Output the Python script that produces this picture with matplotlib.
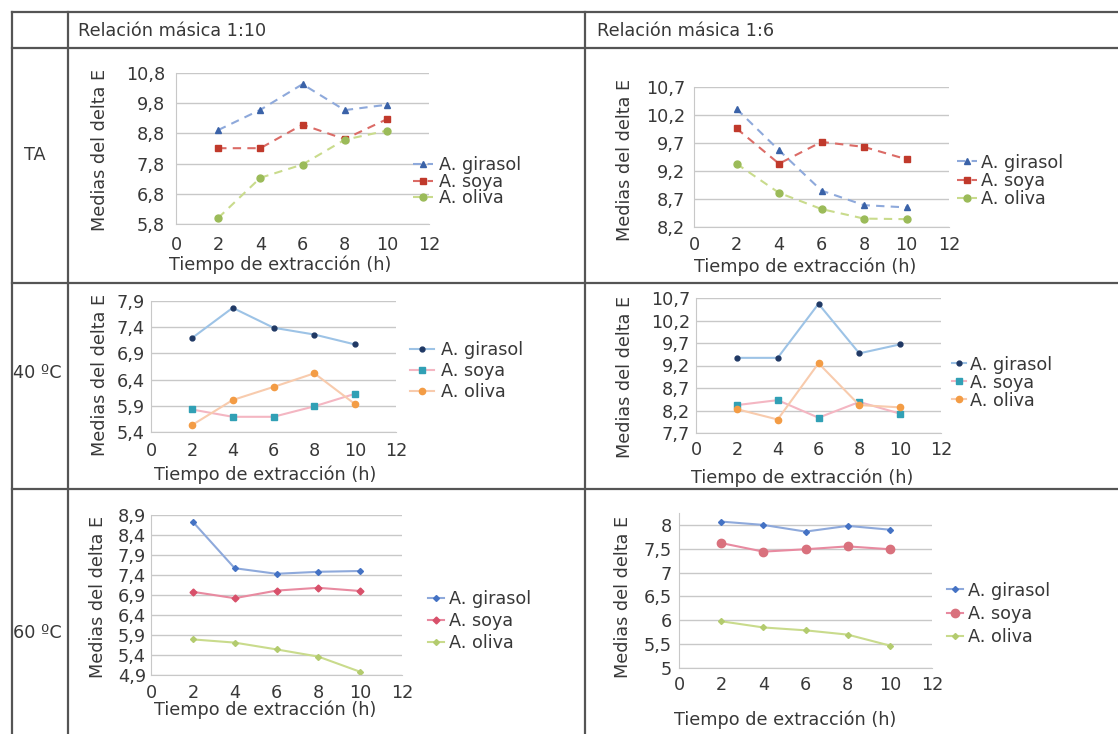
import matplotlib
matplotlib.use('Agg')
import matplotlib.pyplot as plt
from matplotlib.lines import Line2D
from matplotlib.ticker import FixedLocator, FuncFormatter

# ---------------- data ----------------
time_h = [2, 4, 6, 8, 10]
series_names = ["A. girasol", "A. soya", "A. oliva"]
col_headers = ["Relación másica 1:10", "Relación másica 1:6"]
row_headers = ["TA", "40 ºC", "60 ºC"]
x_label = "Tiempo de extracción (h)"
y_label = "Medias del delta E"
x_ticks = [0, 2, 4, 6, 8, 10, 12]

ta_110_girasol = [8.91, 9.58, 10.43, 9.57, 9.75]
ta_110_soya = [8.31, 8.31, 9.09, 8.61, 9.27]
ta_110_oliva = [6.00, 7.33, 7.77, 8.59, 8.89]

ta_16_girasol = [10.31, 9.57, 8.85, 8.59, 8.55]
ta_16_soya = [9.96, 9.33, 9.72, 9.63, 9.41]
ta_16_oliva = [9.33, 8.81, 8.52, 8.35, 8.34]

t40_110_girasol = [7.19, 7.77, 7.39, 7.26, 7.07]
t40_110_soya = [5.83, 5.69, 5.69, 5.89, 6.13]
t40_110_oliva = [5.53, 6.01, 6.26, 6.52, 5.93]

t40_16_girasol = [9.37, 9.37, 10.57, 9.47, 9.67]
t40_16_soya = [8.32, 8.43, 8.04, 8.39, 8.13]
t40_16_oliva = [8.23, 8.00, 9.25, 8.32, 8.27]

t60_110_girasol = [8.73, 7.57, 7.43, 7.48, 7.50]
t60_110_soya = [6.98, 6.82, 7.01, 7.08, 7.00]
t60_110_oliva = [5.79, 5.71, 5.54, 5.36, 4.98]

t60_16_girasol = [8.07, 8.00, 7.86, 7.98, 7.90]
t60_16_soya = [7.62, 7.44, 7.49, 7.55, 7.49]
t60_16_oliva = [5.98, 5.85, 5.79, 5.70, 5.47]

yticks_ta_110 = [5.8, 6.8, 7.8, 8.8, 9.8, 10.8]
yticks_ta_16 = [8.2, 8.7, 9.2, 9.7, 10.2, 10.7]
yticks_40_110 = [5.4, 5.9, 6.4, 6.9, 7.4, 7.9]
yticks_40_16 = [7.7, 8.2, 8.7, 9.2, 9.7, 10.2, 10.7]
yticks_60_110 = [4.9, 5.4, 5.9, 6.4, 6.9, 7.4, 7.9, 8.4, 8.9]
yticks_60_16 = [5, 5.5, 6, 6.5, 7, 7.5, 8]

# ---------------- styles ----------------
W, H = 1118, 734
FS = 12.7
plt.rcParams['font.family'] = ['DejaVu Sans']
plt.rcParams['font.size'] = FS
TXT = '#383838'

style_dash = [
    dict(color='#8EA9DB', ls=(0, (4, 3)), marker='^', mfc='#3A62A8', mec='#3A62A8', ms=5),
    dict(color='#DB6B66', ls=(0, (4, 3)), marker='s', mfc='#C0392B', mec='#C0392B', ms=5),
    dict(color='#C9DB8C', ls=(0, (4, 3)), marker='o', mfc='#9BBB59', mec='#9BBB59', ms=5),
]
style_40 = [
    dict(color='#9DC3E6', ls='-', marker='o', mfc='#1F3864', mec='#1F3864', ms=3.5),
    dict(color='#F4B6C2', ls='-', marker='s', mfc='#31A0B5', mec='#31A0B5', ms=5),
    dict(color='#F8CBAD', ls='-', marker='o', mfc='#F39C45', mec='#F39C45', ms=4.5),
]
style_60a = [
    dict(color='#8EA9DB', ls='-', marker='D', mfc='#4472C4', mec='#4472C4', ms=3),
    dict(color='#E88AA0', ls='-', marker='D', mfc='#D8506A', mec='#D8506A', ms=3.5),
    dict(color='#C9DB8C', ls='-', marker='D', mfc='#B3CB6E', mec='#B3CB6E', ms=3),
]
style_60b = [
    dict(color='#8EA9DB', ls='-', marker='D', mfc='#4472C4', mec='#4472C4', ms=3),
    dict(color='#E88AA0', ls='-', marker='o', mfc='#D9717D', mec='#D9717D', ms=6),
    dict(color='#C9DB8C', ls='-', marker='D', mfc='#B3CB6E', mec='#B3CB6E', ms=3),
]

panels = [
    dict(rect=(176, 429, 73, 224), ylim=(5.8, 10.8), yticks=yticks_ta_110,
         data=[ta_110_girasol, ta_110_soya, ta_110_oliva], style=style_dash,
         leg=(413, 165, 1.15, 0.3, -0.09), ylab=(100, 150), xlab=(280, 265), ypad=8, xpad=8.5),
    dict(rect=(694, 949, 87, 227), ylim=(8.2, 10.7), yticks=yticks_ta_16,
         data=[ta_16_girasol, ta_16_soya, ta_16_oliva], style=style_dash,
         leg=(957, 162, 1.15, 0.2, 0.02), ylab=(625, 160), xlab=(805, 267), ypad=6.5, xpad=6.5),
    dict(rect=(151, 396, 301, 432), ylim=(5.4, 7.9), yticks=yticks_40_110,
         data=[t40_110_girasol, t40_110_soya, t40_110_oliva], style=style_40,
         leg=(410, 350, 1.35, 0.4, 0.15), ylab=(100, 375), xlab=(265, 475), ypad=4.3, xpad=7),
    dict(rect=(696, 941, 298, 433), ylim=(7.7, 10.7), yticks=yticks_40_16,
         data=[t40_16_girasol, t40_16_soya, t40_16_oliva], style=style_40,
         leg=(952, 364, 0.8, 0.2, 0.0), ylab=(625, 377), xlab=(802, 478), ypad=4.3, xpad=5.8),
    dict(rect=(151, 402, 515, 675), ylim=(4.9, 8.9), yticks=yticks_60_110,
         data=[t60_110_girasol, t60_110_soya, t60_110_oliva], style=style_60a,
         leg=(428, 599, 0.9, 0.3, 0.21), ylab=(98, 597), xlab=(265, 710), ypad=3.6, xpad=6.5),
    dict(rect=(679, 932, 513, 668), ylim=(5.0, 8.25), yticks=yticks_60_16,
         data=[t60_16_girasol, t60_16_soya, t60_16_oliva], style=style_60b,
         leg=(947, 590, 0.9, 0.3, 0.30), ylab=(623, 597), xlab=(785, 720), ypad=5, xpad=5.8),
]

fig = plt.figure(figsize=(W / 100, H / 100), dpi=100)
fig.patch.set_facecolor('white')


def fig_line(x0, y0, x1, y1):
    fig.add_artist(Line2D([x0 / W, x1 / W], [1 - y0 / H, 1 - y1 / H],
                          transform=fig.transFigure, color='#555555', lw=1.6))


# table grid
for y in (12, 48, 283, 489):
    fig_line(12, y, W, y)
for x in (12, 68, 585):
    fig_line(x, 12, x, H)

# headers
fig.text(78 / W, 1 - 31 / H, col_headers[0], ha='left', va='center', color=TXT, fontsize=FS)
fig.text(597 / W, 1 - 31 / H, col_headers[1], ha='left', va='center', color=TXT, fontsize=FS)
fig.text(24 / W, 1 - 155 / H, row_headers[0], ha='left', va='center', color=TXT, fontsize=FS)
fig.text(13 / W, 1 - 373 / H, row_headers[1], ha='left', va='center', color=TXT, fontsize=FS)
fig.text(13 / W, 1 - 633 / H, row_headers[2], ha='left', va='center', color=TXT, fontsize=FS)

fmt = FuncFormatter(lambda v, p: f"{v:g}".replace('.', ','))

for p in panels:
    l, r, t, b = p['rect']
    ax = fig.add_axes([l / W, 1 - b / H, (r - l) / W, (b - t) / H])
    for vals, name, st in zip(p['data'], series_names, p['style']):
        ax.plot(time_h, vals, label=name, lw=1.5, clip_on=False, **st)
    ax.set_xlim(0, 12)
    ax.set_ylim(*p['ylim'])
    ax.xaxis.set_major_locator(FixedLocator(x_ticks))
    ax.yaxis.set_major_locator(FixedLocator(p['yticks']))
    ax.yaxis.set_major_formatter(fmt)
    ax.grid(axis='y', color='#C8C8C8', lw=1.0)
    ax.set_axisbelow(True)
    for s in ('top', 'right'):
        ax.spines[s].set_visible(False)
    for s in ('left', 'bottom'):
        ax.spines[s].set_color('#C8C8C8')
    ax.tick_params(axis='both', length=0, colors=TXT, labelsize=FS)
    ax.tick_params(axis='y', pad=p['ypad'])
    ax.tick_params(axis='x', pad=p['xpad'])
    ax.set_ylabel(y_label, color=TXT, fontsize=FS)
    ax.set_xlabel(x_label, color=TXT, fontsize=FS)
    yx, yy = p['ylab']
    ax.yaxis.set_label_coords((yx - l) / (r - l), (b - yy) / (b - t))
    xx, xy = p['xlab']
    ax.xaxis.set_label_coords((xx - l) / (r - l), (b - xy) / (b - t))
    ax.xaxis.label.set_va('center')
    ax.yaxis.label.set_va('center')
    lx, ly, hl, htp, ls = p['leg']
    ax.legend(loc='upper left', bbox_to_anchor=(lx / W, 1 - (ly - 8.5) / H),
              bbox_transform=fig.transFigure, frameon=False, borderpad=0,
              borderaxespad=0, handlelength=hl, handletextpad=htp,
              labelspacing=ls, fontsize=FS, labelcolor=TXT, numpoints=1)

fig.savefig('out.png', dpi=100, facecolor='white')
